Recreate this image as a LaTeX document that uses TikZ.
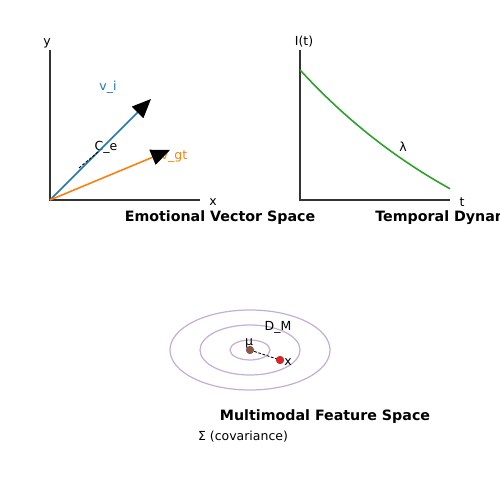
\documentclass[tikz,border=0pt]{standalone}
\usepackage{fontspec}
\setmainfont{DejaVu Sans}
\usetikzlibrary{arrows.meta}
\definecolor{tabblue}{HTML}{1F77B4}
\definecolor{taborange}{HTML}{FF7F0E}
\definecolor{tabgreen}{HTML}{2CA02C}
\definecolor{tabbrown}{HTML}{8C564B}
\definecolor{tabred}{HTML}{D62728}
\definecolor{ringpurple}{HTML}{C5B0D5}
\definecolor{axgray}{HTML}{333333}
\begin{document}
\begin{tikzpicture}
\tikzset{lbl/.style={inner sep=0pt, font=\fontsize{7.1}{8.5}\selectfont},
 ttl/.style={inner sep=0pt, font=\fontsize{8.1}{9.7}\selectfont\bfseries},
 ax/.style={draw=axgray, line width=1.1pt},
 vec/.style={line width=0.9pt, -{Triangle[length=0.38cm, width=0.32cm, black]}},
 dot/.style={circle, inner sep=0pt, minimum size=0.16cm},
 ring/.style={draw=ringpurple, line width=0.7pt},
 fine/.style={line width=0.5pt, dash pattern=on 1.6pt off 0.9pt}}

\useasboundingbox (0,0) rectangle (10,10);

% Emotional vector space
\coordinate (o1) at (1,6);
\coordinate (y1) at (1,9);
\coordinate (x1) at (4,6);
\draw[ax] (y1) -- (o1) -- (x1);
\node[lbl] (ylab) at (0.94,9.14) {y};
\node[lbl] (xlab) at (4.26,5.96) {x};

\node[lbl, text=tabblue] (vilab) at (2.16,8.26) {v\_i};
\node[lbl, text=taborange] (vgtlab) at (3.48,6.86) {v\_gt};
\node[lbl] (celab) at (2.12,7.06) {C\_e};

\coordinate (vi) at (3.02,8.02);
\coordinate (vgt) at (3.4,7.0);
\draw[vec, tabblue] (o1) -- (vi);
\draw[vec, taborange] (o1) -- (vgt);

\coordinate (ce0) at (1.58,6.64);
\coordinate (ce1) at (1.96,6.96);
\draw[fine] (ce0) -- (ce1);

\node[ttl] (t1) at (4.4,5.65) {Emotional Vector Space};

% Temporal dynamics
\coordinate (o2) at (6,6);
\coordinate (y2) at (6,9);
\coordinate (x2) at (9,6);
\draw[ax] (y2) -- (o2) -- (x2);
\node[lbl] (ilab) at (6.08,9.16) {I(t)};
\node[lbl] (tlab) at (9.24,5.96) {t};

\draw[tabgreen, line width=0.9pt] plot[domain=0:3, samples=40, smooth]
 ({6+\x}, {3.76 + 4.84*exp(-0.225*\x)});
\node[lbl] (lamlab) at (8.06,7.06) {λ};

\node[ttl, anchor=west] (t2) at (7.5,5.65) {Temporal Dynamics};

% Multimodal feature space
\draw[ring] (5,3) ellipse (1.6cm and 0.8cm);
\draw[ring] (5,3) ellipse (1cm and 0.5cm);
\draw[ring] (5,3) ellipse (0.4cm and 0.2cm);

\node[dot, fill=tabbrown] (mu) at (5,3) {};
\node[dot, fill=tabred] (xpt) at (5.6,2.8) {};
\draw[fine] (mu.center) -- (xpt.center);
\node[dot, fill=tabbrown] at (mu) {};
\node[dot, fill=tabred] at (xpt) {};

\node[lbl] (mulab) at (4.98,3.14) {μ};
\node[lbl] (xptlab) at (5.76,2.76) {x};
\node[lbl] (dmlab) at (5.56,3.46) {D\_M};

\node[ttl] (t3) at (6.5,1.67) {Multimodal Feature Space};
\node[lbl] (siglab) at (4.86,1.26) {Σ (covariance)};

\end{tikzpicture}
\end{document}
